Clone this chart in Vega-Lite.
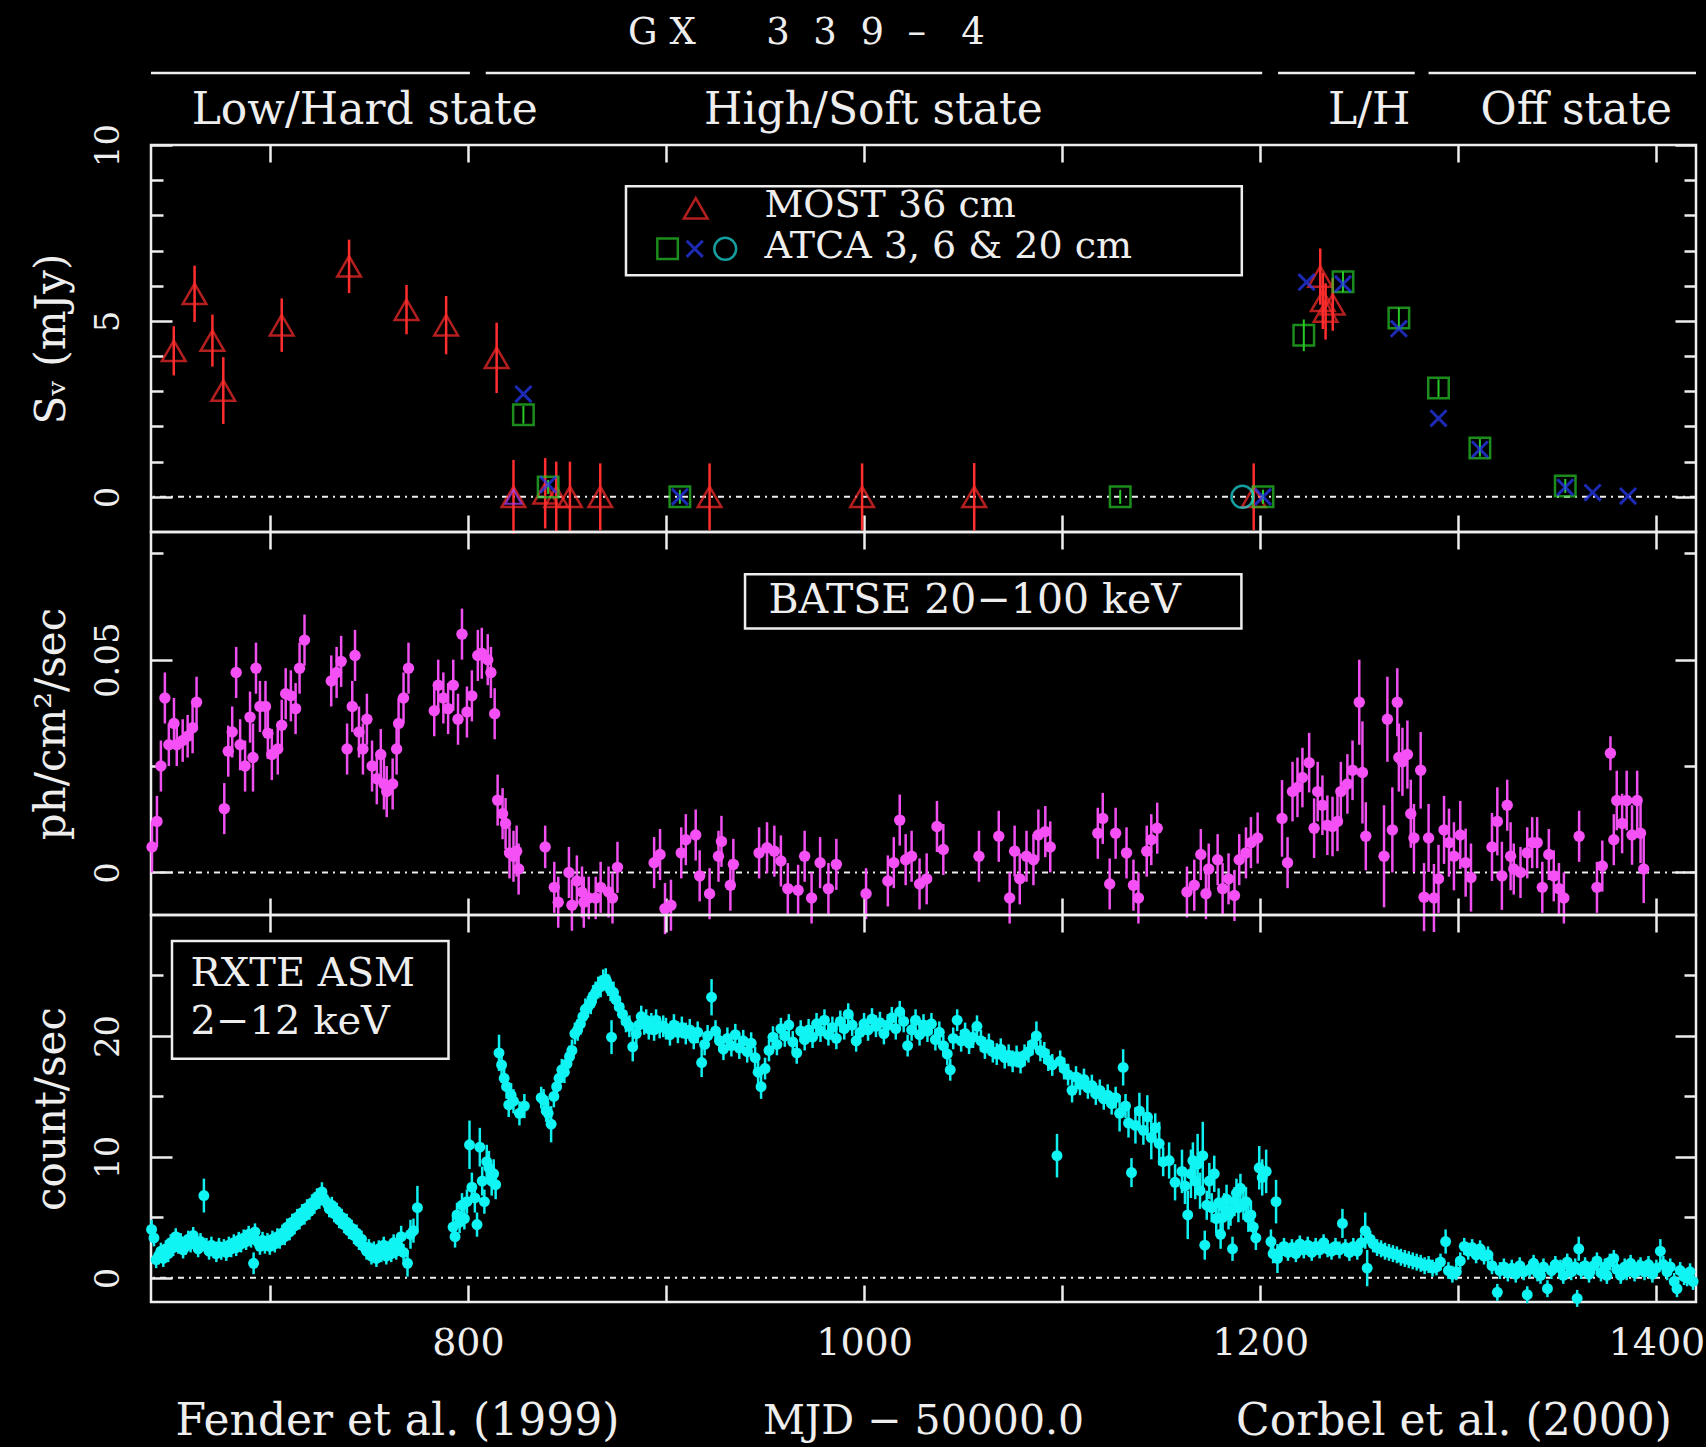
{
"$schema": "https://vega.github.io/schema/vega-lite/v6.json",
"background": "#000000",
"padding": {"left": 28, "top": 0, "right": 0, "bottom": 0},
"spacing": 0,
"bounds": "flush",
"config": {
  "view": {"stroke": "#eeeeee", "strokeWidth": 2.5},
  "axis": {"domain": false, "grid": false, "tickColor": "#eeeeee", "tickWidth": 2.5, "labelColor": "#eeeeee", "labelFont": "DejaVu Serif", "titleColor": "#eeeeee", "titleFont": "DejaVu Serif", "titleFontWeight": "normal", "labelOverlap": false, "labelFlush": false, "labelBound": false},
  "text": {"font": "DejaVu Serif", "color": "#eeeeee"}
},
"datasets": {
  "states": [
    {"state": "Low/Hard", "start": 640, "end": 801},
    {"state": "High/Soft", "start": 809, "end": 1201},
    {"state": "Low/Hard", "start": 1209, "end": 1278},
    {"state": "Off", "start": 1285, "end": 1420}
  ],
  "most": [
    {"mjd": 651.5, "flux": 4.15, "err": 0.7}, {"mjd": 662, "flux": 5.77, "err": 0.8}, {"mjd": 671, "flux": 4.44, "err": 0.74},
    {"mjd": 676.5, "flux": 3.02, "err": 0.95}, {"mjd": 706, "flux": 4.88, "err": 0.76}, {"mjd": 740, "flux": 6.55, "err": 0.76},
    {"mjd": 769, "flux": 5.32, "err": 0.7}, {"mjd": 789, "flux": 4.88, "err": 0.83}, {"mjd": 814.5, "flux": 3.95, "err": 1.0},
    {"mjd": 823, "flux": 0, "err": 1.05}, {"mjd": 839, "flux": 0.1, "err": 1.0}, {"mjd": 844.6, "flux": 0, "err": 1.0},
    {"mjd": 851.5, "flux": 0, "err": 1.0}, {"mjd": 866.8, "flux": 0, "err": 0.95}, {"mjd": 922, "flux": 0, "err": 0.95},
    {"mjd": 999, "flux": 0, "err": 0.95}, {"mjd": 1055.6, "flux": 0, "err": 0.96}, {"mjd": 1196.7, "flux": 0, "err": 0.95},
    {"mjd": 1230.3, "flux": 6.26, "err": 0.8}, {"mjd": 1231.6, "flux": 5.57, "err": 0.8}, {"mjd": 1233, "flux": 5.27, "err": 0.8},
    {"mjd": 1236.6, "flux": 5.47, "err": 0.75}
  ],
  "atcaSquare": [
    {"mjd": 828, "flux": 2.33, "err": 0.25}, {"mjd": 840.5, "flux": 0.28, "err": 0.2}, {"mjd": 907, "flux": 0, "err": 0.2},
    {"mjd": 1129.3, "flux": 0, "err": 0.2}, {"mjd": 1201.4, "flux": 0, "err": 0.2}, {"mjd": 1222, "flux": 4.59, "err": 0.45},
    {"mjd": 1241.8, "flux": 6.11, "err": 0.3}, {"mjd": 1270, "flux": 5.08, "err": 0.3}, {"mjd": 1290, "flux": 3.09, "err": 0.25},
    {"mjd": 1310.9, "flux": 1.39, "err": 0.25}, {"mjd": 1354, "flux": 0.31, "err": 0.2}
  ],
  "atcaCross": [
    {"mjd": 828, "flux": 2.92}, {"mjd": 840.5, "flux": 0.35}, {"mjd": 907, "flux": 0}, {"mjd": 1201.4, "flux": 0},
    {"mjd": 1223.4, "flux": 6.1}, {"mjd": 1241.8, "flux": 6.05}, {"mjd": 1270, "flux": 4.78}, {"mjd": 1290, "flux": 2.23},
    {"mjd": 1310.9, "flux": 1.35}, {"mjd": 1354, "flux": 0.27}, {"mjd": 1367.8, "flux": 0.12}, {"mjd": 1385.7, "flux": 0.02}
  ],
  "atcaCircle": [{"mjd": 1191, "flux": 0}],
  "extra": [{"mjd": 823, "flux": 0}],
  "batse": [
    {"mjd": 640.5, "rate": 0.006, "err": 0.006}, {"mjd": 643, "rate": 0.012, "err": 0.006}, {"mjd": 645, "rate": 0.025, "err": 0.006},
    {"mjd": 647, "rate": 0.041, "err": 0.006}, {"mjd": 649, "rate": 0.03, "err": 0.005}, {"mjd": 651.6, "rate": 0.035, "err": 0.006},
    {"mjd": 653, "rate": 0.03, "err": 0.005}, {"mjd": 656, "rate": 0.031, "err": 0.005}, {"mjd": 658.5, "rate": 0.032, "err": 0.005},
    {"mjd": 661, "rate": 0.034, "err": 0.006}, {"mjd": 663, "rate": 0.04, "err": 0.006}, {"mjd": 677, "rate": 0.015, "err": 0.006},
    {"mjd": 679, "rate": 0.0285, "err": 0.006}, {"mjd": 681, "rate": 0.033, "err": 0.006}, {"mjd": 683, "rate": 0.047, "err": 0.006},
    {"mjd": 685, "rate": 0.03, "err": 0.006}, {"mjd": 687.5, "rate": 0.025, "err": 0.006}, {"mjd": 690, "rate": 0.0365, "err": 0.006},
    {"mjd": 691.5, "rate": 0.027, "err": 0.008}, {"mjd": 693, "rate": 0.048, "err": 0.006}, {"mjd": 695, "rate": 0.039, "err": 0.006},
    {"mjd": 697.8, "rate": 0.039, "err": 0.006}, {"mjd": 699, "rate": 0.0327, "err": 0.006}, {"mjd": 701, "rate": 0.0277, "err": 0.006},
    {"mjd": 704, "rate": 0.029, "err": 0.006}, {"mjd": 706, "rate": 0.0346, "err": 0.006}, {"mjd": 708, "rate": 0.042, "err": 0.006},
    {"mjd": 710.6, "rate": 0.0415, "err": 0.006}, {"mjd": 713, "rate": 0.0385, "err": 0.006}, {"mjd": 715, "rate": 0.048, "err": 0.006},
    {"mjd": 717.5, "rate": 0.0546, "err": 0.006}, {"mjd": 731, "rate": 0.045, "err": 0.006}, {"mjd": 733.7, "rate": 0.047, "err": 0.006},
    {"mjd": 736, "rate": 0.0496, "err": 0.006}, {"mjd": 739, "rate": 0.029, "err": 0.006}, {"mjd": 741.6, "rate": 0.039, "err": 0.006},
    {"mjd": 743, "rate": 0.051, "err": 0.006}, {"mjd": 745, "rate": 0.033, "err": 0.006}, {"mjd": 747, "rate": 0.029, "err": 0.006},
    {"mjd": 749, "rate": 0.036, "err": 0.006}, {"mjd": 751.6, "rate": 0.025, "err": 0.006}, {"mjd": 754, "rate": 0.022, "err": 0.006},
    {"mjd": 756, "rate": 0.0277, "err": 0.006}, {"mjd": 757.6, "rate": 0.0208, "err": 0.006}, {"mjd": 759, "rate": 0.019, "err": 0.006},
    {"mjd": 762, "rate": 0.0208, "err": 0.006}, {"mjd": 764, "rate": 0.029, "err": 0.006}, {"mjd": 765, "rate": 0.035, "err": 0.006},
    {"mjd": 767.5, "rate": 0.041, "err": 0.006}, {"mjd": 770, "rate": 0.048, "err": 0.006}, {"mjd": 783, "rate": 0.038, "err": 0.006},
    {"mjd": 785, "rate": 0.044, "err": 0.006}, {"mjd": 787.6, "rate": 0.041, "err": 0.006}, {"mjd": 790, "rate": 0.0385, "err": 0.006},
    {"mjd": 792.6, "rate": 0.044, "err": 0.006}, {"mjd": 795, "rate": 0.036, "err": 0.006}, {"mjd": 797, "rate": 0.056, "err": 0.006},
    {"mjd": 799.5, "rate": 0.0377, "err": 0.006}, {"mjd": 802, "rate": 0.0415, "err": 0.006}, {"mjd": 805, "rate": 0.051, "err": 0.006},
    {"mjd": 807, "rate": 0.0515, "err": 0.006}, {"mjd": 810, "rate": 0.05, "err": 0.006}, {"mjd": 811.6, "rate": 0.047, "err": 0.006},
    {"mjd": 813.5, "rate": 0.0373, "err": 0.006}, {"mjd": 815, "rate": 0.017, "err": 0.006}, {"mjd": 817.5, "rate": 0.0138, "err": 0.006},
    {"mjd": 819, "rate": 0.0115, "err": 0.006}, {"mjd": 821, "rate": 0.0046, "err": 0.006}, {"mjd": 823, "rate": 0.0038, "err": 0.006},
    {"mjd": 824.6, "rate": 0.005, "err": 0.006}, {"mjd": 825.6, "rate": 0.0008, "err": 0.006}, {"mjd": 839, "rate": 0.006, "err": 0.005},
    {"mjd": 843.6, "rate": -0.0035, "err": 0.006}, {"mjd": 845.6, "rate": -0.007, "err": 0.006}, {"mjd": 851, "rate": 0.0, "err": 0.006},
    {"mjd": 852.5, "rate": -0.0077, "err": 0.006}, {"mjd": 855, "rate": -0.002, "err": 0.006}, {"mjd": 857.6, "rate": -0.0046, "err": 0.006},
    {"mjd": 858.5, "rate": -0.007, "err": 0.006}, {"mjd": 861, "rate": -0.006, "err": 0.005}, {"mjd": 864.5, "rate": -0.006, "err": 0.005},
    {"mjd": 867, "rate": -0.0035, "err": 0.006}, {"mjd": 871, "rate": -0.0046, "err": 0.006}, {"mjd": 873, "rate": -0.006, "err": 0.006},
    {"mjd": 875.5, "rate": 0.0012, "err": 0.006}, {"mjd": 894, "rate": 0.0023, "err": 0.006}, {"mjd": 897, "rate": 0.0042, "err": 0.006},
    {"mjd": 899.5, "rate": -0.0085, "err": 0.006}, {"mjd": 902.5, "rate": -0.0077, "err": 0.006}, {"mjd": 907.7, "rate": 0.0046, "err": 0.006},
    {"mjd": 910, "rate": 0.0077, "err": 0.006}, {"mjd": 915, "rate": 0.0088, "err": 0.006}, {"mjd": 917, "rate": -0.0008, "err": 0.006},
    {"mjd": 922, "rate": -0.005, "err": 0.006}, {"mjd": 926.5, "rate": 0.0038, "err": 0.006}, {"mjd": 928, "rate": 0.0073, "err": 0.006},
    {"mjd": 932.5, "rate": -0.003, "err": 0.006}, {"mjd": 934, "rate": 0.0019, "err": 0.006}, {"mjd": 947, "rate": 0.0046, "err": 0.006},
    {"mjd": 951, "rate": 0.0058, "err": 0.006}, {"mjd": 954.7, "rate": 0.005, "err": 0.006}, {"mjd": 958, "rate": 0.0027, "err": 0.006},
    {"mjd": 961.5, "rate": -0.0038, "err": 0.006}, {"mjd": 966.7, "rate": -0.0042, "err": 0.006}, {"mjd": 970, "rate": 0.0038, "err": 0.006},
    {"mjd": 973.5, "rate": -0.006, "err": 0.006}, {"mjd": 977.8, "rate": 0.0023, "err": 0.006}, {"mjd": 982, "rate": -0.0038, "err": 0.006},
    {"mjd": 986, "rate": 0.0019, "err": 0.006}, {"mjd": 1001, "rate": -0.005, "err": 0.006}, {"mjd": 1012, "rate": -0.002, "err": 0.006},
    {"mjd": 1015, "rate": 0.0023, "err": 0.006}, {"mjd": 1018, "rate": 0.0123, "err": 0.006}, {"mjd": 1021, "rate": 0.003, "err": 0.006},
    {"mjd": 1024, "rate": 0.0038, "err": 0.006}, {"mjd": 1028, "rate": -0.0027, "err": 0.006}, {"mjd": 1031.6, "rate": -0.0015, "err": 0.006},
    {"mjd": 1036.8, "rate": 0.0108, "err": 0.006}, {"mjd": 1040, "rate": 0.0054, "err": 0.006}, {"mjd": 1058, "rate": 0.0038, "err": 0.006},
    {"mjd": 1068, "rate": 0.0085, "err": 0.006}, {"mjd": 1073.5, "rate": -0.006, "err": 0.006}, {"mjd": 1076, "rate": 0.005, "err": 0.006},
    {"mjd": 1078.6, "rate": -0.0015, "err": 0.006}, {"mjd": 1082, "rate": 0.0038, "err": 0.006}, {"mjd": 1085.5, "rate": 0.003, "err": 0.006},
    {"mjd": 1088, "rate": 0.0088, "err": 0.006}, {"mjd": 1091.5, "rate": 0.0096, "err": 0.006}, {"mjd": 1094, "rate": 0.006, "err": 0.006},
    {"mjd": 1118, "rate": 0.0092, "err": 0.006}, {"mjd": 1120.5, "rate": 0.0127, "err": 0.006}, {"mjd": 1124, "rate": -0.0027, "err": 0.006},
    {"mjd": 1127, "rate": 0.0092, "err": 0.006}, {"mjd": 1132.5, "rate": 0.0046, "err": 0.006}, {"mjd": 1136, "rate": -0.003, "err": 0.006},
    {"mjd": 1138.5, "rate": -0.006, "err": 0.006}, {"mjd": 1142.7, "rate": 0.005, "err": 0.006}, {"mjd": 1145, "rate": 0.0077, "err": 0.006},
    {"mjd": 1148, "rate": 0.0104, "err": 0.006}, {"mjd": 1163, "rate": -0.0046, "err": 0.006}, {"mjd": 1166.7, "rate": -0.003, "err": 0.006},
    {"mjd": 1170, "rate": 0.0042, "err": 0.006}, {"mjd": 1172.6, "rate": -0.005, "err": 0.006}, {"mjd": 1174, "rate": 0.0008, "err": 0.006},
    {"mjd": 1178.5, "rate": 0.003, "err": 0.006}, {"mjd": 1181, "rate": -0.0038, "err": 0.006}, {"mjd": 1184, "rate": -0.0015, "err": 0.006},
    {"mjd": 1187, "rate": -0.0054, "err": 0.006}, {"mjd": 1189.4, "rate": 0.003, "err": 0.006}, {"mjd": 1192.8, "rate": 0.0046, "err": 0.006},
    {"mjd": 1195.3, "rate": 0.007, "err": 0.006}, {"mjd": 1198.7, "rate": 0.0081, "err": 0.006}, {"mjd": 1211, "rate": 0.0127, "err": 0.009},
    {"mjd": 1213.8, "rate": 0.0023, "err": 0.006}, {"mjd": 1216.3, "rate": 0.019, "err": 0.007}, {"mjd": 1218.8, "rate": 0.02, "err": 0.007},
    {"mjd": 1221.3, "rate": 0.0223, "err": 0.007}, {"mjd": 1224.7, "rate": 0.0258, "err": 0.007}, {"mjd": 1227.2, "rate": 0.0104, "err": 0.007},
    {"mjd": 1229, "rate": 0.019, "err": 0.007}, {"mjd": 1231.4, "rate": 0.0158, "err": 0.007}, {"mjd": 1233.9, "rate": 0.0111, "err": 0.007},
    {"mjd": 1236.5, "rate": 0.0108, "err": 0.007}, {"mjd": 1239, "rate": 0.012, "err": 0.007}, {"mjd": 1240.7, "rate": 0.019, "err": 0.007},
    {"mjd": 1244, "rate": 0.0208, "err": 0.007}, {"mjd": 1246.6, "rate": 0.024, "err": 0.007}, {"mjd": 1250, "rate": 0.04, "err": 0.01},
    {"mjd": 1251.6, "rate": 0.0235, "err": 0.012}, {"mjd": 1253.3, "rate": 0.0085, "err": 0.008}, {"mjd": 1262.5, "rate": 0.0038, "err": 0.012},
    {"mjd": 1264.2, "rate": 0.036, "err": 0.01}, {"mjd": 1266.7, "rate": 0.01, "err": 0.01}, {"mjd": 1269.2, "rate": 0.04, "err": 0.008},
    {"mjd": 1270, "rate": 0.027, "err": 0.008}, {"mjd": 1271.8, "rate": 0.026, "err": 0.008}, {"mjd": 1274.3, "rate": 0.0277, "err": 0.008},
    {"mjd": 1276, "rate": 0.0138, "err": 0.008}, {"mjd": 1277.6, "rate": 0.0081, "err": 0.008}, {"mjd": 1281, "rate": 0.024, "err": 0.009},
    {"mjd": 1282.7, "rate": -0.0058, "err": 0.008}, {"mjd": 1285, "rate": 0.0081, "err": 0.008}, {"mjd": 1287.7, "rate": -0.006, "err": 0.008},
    {"mjd": 1290, "rate": -0.0015, "err": 0.008}, {"mjd": 1292.8, "rate": 0.01, "err": 0.008}, {"mjd": 1295.3, "rate": 0.007, "err": 0.008},
    {"mjd": 1297.8, "rate": 0.0038, "err": 0.008}, {"mjd": 1301, "rate": 0.0088, "err": 0.008}, {"mjd": 1303.7, "rate": 0.0023, "err": 0.008},
    {"mjd": 1306.4, "rate": -0.0012, "err": 0.008}, {"mjd": 1317, "rate": 0.006, "err": 0.008}, {"mjd": 1319.7, "rate": 0.012, "err": 0.008},
    {"mjd": 1322, "rate": -0.0008, "err": 0.008}, {"mjd": 1324.7, "rate": 0.0158, "err": 0.006}, {"mjd": 1326.4, "rate": 0.0038, "err": 0.008},
    {"mjd": 1328, "rate": 0.0008, "err": 0.006}, {"mjd": 1331.4, "rate": 0.0, "err": 0.006}, {"mjd": 1334.8, "rate": 0.0046, "err": 0.006},
    {"mjd": 1337.3, "rate": 0.007, "err": 0.006}, {"mjd": 1339.8, "rate": 0.007, "err": 0.006}, {"mjd": 1342.4, "rate": -0.0035, "err": 0.006},
    {"mjd": 1345.7, "rate": 0.0042, "err": 0.006}, {"mjd": 1348.2, "rate": -0.0008, "err": 0.006}, {"mjd": 1350.8, "rate": -0.0038, "err": 0.006},
    {"mjd": 1353.3, "rate": -0.006, "err": 0.006}, {"mjd": 1361, "rate": 0.0085, "err": 0.006}, {"mjd": 1370, "rate": -0.0035, "err": 0.006},
    {"mjd": 1372.7, "rate": 0.0015, "err": 0.006}, {"mjd": 1376.8, "rate": 0.028, "err": 0.004}, {"mjd": 1378.5, "rate": 0.0077, "err": 0.006},
    {"mjd": 1380, "rate": 0.0169, "err": 0.007}, {"mjd": 1382.7, "rate": 0.0115, "err": 0.007}, {"mjd": 1385, "rate": 0.0169, "err": 0.007},
    {"mjd": 1387.7, "rate": 0.0088, "err": 0.007}, {"mjd": 1390.3, "rate": 0.0169, "err": 0.007}, {"mjd": 1392, "rate": 0.0092, "err": 0.007},
    {"mjd": 1393.6, "rate": 0.0008, "err": 0.008}
  ],
  "asm": [
    {"mjd": 640.3, "rate": 4.0, "err": 0.8}, {"mjd": 641.5, "rate": 3.3, "err": 0.7}, {"mjd": 642.6, "rate": 1.5, "err": 0.7}, {"mjd": 643.8, "rate": 1.8, "err": 0.7},
    {"mjd": 645, "rate": 2.2, "err": 0.7}, {"mjd": 646.2, "rate": 1.6, "err": 0.7}, {"mjd": 647.5, "rate": 2.4, "err": 0.7}, {"mjd": 648.7, "rate": 2.0, "err": 0.7},
    {"mjd": 650, "rate": 2.9, "err": 0.7}, {"mjd": 651.2, "rate": 2.5, "err": 0.7}, {"mjd": 652.5, "rate": 3.4, "err": 0.7}, {"mjd": 653.7, "rate": 2.7, "err": 0.7},
    {"mjd": 655, "rate": 3.0, "err": 0.7}, {"mjd": 656.2, "rate": 2.3, "err": 0.7}, {"mjd": 657.5, "rate": 2.6, "err": 0.7}, {"mjd": 658.8, "rate": 3.2, "err": 0.7},
    {"mjd": 660, "rate": 2.8, "err": 0.7}, {"mjd": 661.3, "rate": 3.5, "err": 0.7}, {"mjd": 662.5, "rate": 2.9, "err": 0.7}, {"mjd": 663.8, "rate": 2.4, "err": 0.7},
    {"mjd": 665, "rate": 3.0, "err": 0.7}, {"mjd": 666.7, "rate": 6.8, "err": 1.4}, {"mjd": 668, "rate": 2.6, "err": 0.7}, {"mjd": 669.3, "rate": 2.2, "err": 0.7},
    {"mjd": 670.5, "rate": 2.7, "err": 0.7}, {"mjd": 671.8, "rate": 2.3, "err": 0.7}, {"mjd": 673, "rate": 2.0, "err": 0.7}, {"mjd": 674.3, "rate": 2.6, "err": 0.7},
    {"mjd": 675.5, "rate": 2.2, "err": 0.7}, {"mjd": 676.8, "rate": 2.5, "err": 0.7}, {"mjd": 678, "rate": 2.1, "err": 0.7}, {"mjd": 679.3, "rate": 2.7, "err": 0.7},
    {"mjd": 680.5, "rate": 2.4, "err": 0.7}, {"mjd": 681.8, "rate": 2.9, "err": 0.7}, {"mjd": 683, "rate": 2.5, "err": 0.7}, {"mjd": 684.3, "rate": 3.1, "err": 0.7},
    {"mjd": 685.5, "rate": 2.8, "err": 0.7}, {"mjd": 686.8, "rate": 3.3, "err": 0.7}, {"mjd": 688, "rate": 3.0, "err": 0.7}, {"mjd": 689.3, "rate": 3.6, "err": 0.7},
    {"mjd": 690.5, "rate": 3.2, "err": 0.7}, {"mjd": 691.8, "rate": 1.2, "err": 0.9}, {"mjd": 692.5, "rate": 3.8, "err": 0.7}, {"mjd": 693.8, "rate": 3.0, "err": 0.7},
    {"mjd": 695, "rate": 2.6, "err": 0.7}, {"mjd": 696.3, "rate": 3.1, "err": 0.7}, {"mjd": 697.5, "rate": 2.7, "err": 0.7}, {"mjd": 698.8, "rate": 3.0, "err": 0.7},
    {"mjd": 700, "rate": 2.6, "err": 0.7}, {"mjd": 701.3, "rate": 3.2, "err": 0.7}, {"mjd": 702.5, "rate": 2.8, "err": 0.7}, {"mjd": 703.8, "rate": 3.4, "err": 0.7},
    {"mjd": 705, "rate": 3.1, "err": 0.7}, {"mjd": 706.3, "rate": 3.7, "err": 0.7}, {"mjd": 707.5, "rate": 3.4, "err": 0.7}, {"mjd": 708.8, "rate": 4.2, "err": 0.7},
    {"mjd": 710, "rate": 3.8, "err": 0.7}, {"mjd": 711.3, "rate": 4.6, "err": 0.7}, {"mjd": 712.5, "rate": 4.3, "err": 0.7}, {"mjd": 713.8, "rate": 5.0, "err": 0.7},
    {"mjd": 715, "rate": 4.7, "err": 0.7}, {"mjd": 716.3, "rate": 5.4, "err": 0.7}, {"mjd": 717.5, "rate": 5.1, "err": 0.7}, {"mjd": 718.8, "rate": 5.8, "err": 0.7},
    {"mjd": 720, "rate": 5.5, "err": 0.7}, {"mjd": 721.3, "rate": 6.2, "err": 0.7}, {"mjd": 722.5, "rate": 6.0, "err": 0.7}, {"mjd": 723.8, "rate": 6.7, "err": 0.7},
    {"mjd": 725, "rate": 6.4, "err": 0.7}, {"mjd": 726.3, "rate": 7.1, "err": 0.8}, {"mjd": 727.5, "rate": 6.5, "err": 0.7}, {"mjd": 728.8, "rate": 6.2, "err": 0.7},
    {"mjd": 730, "rate": 5.7, "err": 0.7}, {"mjd": 731.3, "rate": 6.0, "err": 0.7}, {"mjd": 732.5, "rate": 5.3, "err": 0.7}, {"mjd": 733.8, "rate": 5.5, "err": 0.7},
    {"mjd": 735, "rate": 4.8, "err": 0.7}, {"mjd": 736.3, "rate": 5.0, "err": 0.7}, {"mjd": 737.5, "rate": 4.4, "err": 0.7}, {"mjd": 738.8, "rate": 4.6, "err": 0.7},
    {"mjd": 740, "rate": 3.9, "err": 0.7}, {"mjd": 741.3, "rate": 4.1, "err": 0.7}, {"mjd": 742.5, "rate": 3.5, "err": 0.7}, {"mjd": 743.8, "rate": 3.7, "err": 0.7},
    {"mjd": 745, "rate": 3.0, "err": 0.7}, {"mjd": 746.3, "rate": 3.2, "err": 0.7}, {"mjd": 747.5, "rate": 2.6, "err": 0.7}, {"mjd": 748.8, "rate": 2.2, "err": 0.7},
    {"mjd": 750, "rate": 2.5, "err": 0.7}, {"mjd": 751.3, "rate": 1.8, "err": 0.7}, {"mjd": 752.5, "rate": 2.3, "err": 0.7}, {"mjd": 753.8, "rate": 1.6, "err": 0.7},
    {"mjd": 755, "rate": 2.4, "err": 0.7}, {"mjd": 756.3, "rate": 2.0, "err": 0.7}, {"mjd": 757.5, "rate": 2.7, "err": 0.7}, {"mjd": 758.8, "rate": 1.8, "err": 0.7},
    {"mjd": 760, "rate": 2.3, "err": 0.7}, {"mjd": 761.3, "rate": 2.0, "err": 0.7}, {"mjd": 762.5, "rate": 2.9, "err": 0.7}, {"mjd": 763.8, "rate": 2.2, "err": 0.7},
    {"mjd": 765, "rate": 2.6, "err": 0.7}, {"mjd": 766.3, "rate": 3.4, "err": 0.9}, {"mjd": 767.5, "rate": 2.1, "err": 0.7}, {"mjd": 769.5, "rate": 1.2, "err": 1.1},
    {"mjd": 771, "rate": 3.6, "err": 1.2}, {"mjd": 772.5, "rate": 3.9, "err": 1.0}, {"mjd": 774.5, "rate": 5.8, "err": 1.8},
    {"mjd": 792.5, "rate": 4.2, "err": 1.0}, {"mjd": 793.5, "rate": 3.4, "err": 0.9}, {"mjd": 794.5, "rate": 5.2, "err": 1.0}, {"mjd": 795.8, "rate": 4.6, "err": 0.9},
    {"mjd": 797, "rate": 6.0, "err": 1.0}, {"mjd": 798.2, "rate": 4.9, "err": 0.9}, {"mjd": 799.5, "rate": 6.3, "err": 1.0}, {"mjd": 800.8, "rate": 11.0, "err": 2.0},
    {"mjd": 802, "rate": 7.5, "err": 1.2}, {"mjd": 803.5, "rate": 6.6, "err": 1.2}, {"mjd": 804.6, "rate": 4.4, "err": 1.0}, {"mjd": 806, "rate": 10.8, "err": 1.6},
    {"mjd": 807.2, "rate": 8.0, "err": 1.2}, {"mjd": 808.3, "rate": 6.3, "err": 1.0}, {"mjd": 809.5, "rate": 9.6, "err": 1.4}, {"mjd": 810.6, "rate": 9.1, "err": 1.4},
    {"mjd": 812, "rate": 8.0, "err": 1.2}, {"mjd": 813, "rate": 8.6, "err": 1.2}, {"mjd": 814, "rate": 7.7, "err": 1.2},
    {"mjd": 815.7, "rate": 18.6, "err": 1.5}, {"mjd": 817, "rate": 17.6, "err": 1.0}, {"mjd": 818.3, "rate": 16.5, "err": 1.0}, {"mjd": 819.5, "rate": 15.8, "err": 1.0},
    {"mjd": 820.6, "rate": 14.3, "err": 1.0}, {"mjd": 821.8, "rate": 15.1, "err": 1.0}, {"mjd": 823, "rate": 14.6, "err": 1.0}, {"mjd": 826, "rate": 13.6, "err": 1.0},
    {"mjd": 828.5, "rate": 14.2, "err": 1.0}, {"mjd": 837, "rate": 14.9, "err": 0.9}, {"mjd": 838.2, "rate": 14.7, "err": 0.9}, {"mjd": 839.5, "rate": 13.8, "err": 0.9},
    {"mjd": 840.5, "rate": 13.6, "err": 1.0}, {"mjd": 842, "rate": 12.7, "err": 1.5}, {"mjd": 843.4, "rate": 15.0, "err": 0.9}, {"mjd": 844.8, "rate": 15.8, "err": 0.9},
    {"mjd": 846, "rate": 16.5, "err": 0.9}, {"mjd": 847.4, "rate": 17.2, "err": 0.9}, {"mjd": 848.7, "rate": 17.0, "err": 0.9}, {"mjd": 850, "rate": 17.7, "err": 0.9},
    {"mjd": 851.3, "rate": 18.3, "err": 0.9}, {"mjd": 852.5, "rate": 18.8, "err": 0.9}, {"mjd": 854, "rate": 20.2, "err": 0.9}, {"mjd": 855.4, "rate": 20.5, "err": 0.9},
    {"mjd": 856.8, "rate": 21.0, "err": 0.9}, {"mjd": 858, "rate": 21.6, "err": 0.9}, {"mjd": 859.3, "rate": 22.2, "err": 0.9}, {"mjd": 860.6, "rate": 22.4, "err": 0.9},
    {"mjd": 862, "rate": 22.7, "err": 0.9}, {"mjd": 863.2, "rate": 23.3, "err": 0.9}, {"mjd": 864.5, "rate": 23.6, "err": 0.9}, {"mjd": 865.8, "rate": 24.0, "err": 0.9},
    {"mjd": 867, "rate": 24.1, "err": 0.9}, {"mjd": 868.3, "rate": 24.6, "err": 0.9}, {"mjd": 869.6, "rate": 24.7, "err": 0.9}, {"mjd": 870.8, "rate": 24.2, "err": 0.9},
    {"mjd": 872, "rate": 23.8, "err": 0.9}, {"mjd": 872.5, "rate": 19.9, "err": 1.4}, {"mjd": 873.5, "rate": 23.6, "err": 0.9}, {"mjd": 874.7, "rate": 23.0, "err": 0.9},
    {"mjd": 876.4, "rate": 22.4, "err": 0.9}, {"mjd": 878, "rate": 21.8, "err": 0.9}, {"mjd": 879.8, "rate": 21.2, "err": 0.9}, {"mjd": 881.5, "rate": 20.8, "err": 0.9},
    {"mjd": 883.2, "rate": 19.1, "err": 1.2}, {"mjd": 885, "rate": 20.2, "err": 0.9}, {"mjd": 886.3, "rate": 20.9, "err": 0.9}, {"mjd": 887.5, "rate": 21.6, "err": 0.9},
    {"mjd": 889, "rate": 21.0, "err": 0.9}, {"mjd": 890, "rate": 21.3, "err": 0.9}, {"mjd": 891.3, "rate": 20.6, "err": 0.9}, {"mjd": 892.6, "rate": 21.0, "err": 0.9},
    {"mjd": 894, "rate": 20.5, "err": 0.9}, {"mjd": 895, "rate": 21.3, "err": 0.9}, {"mjd": 896.8, "rate": 20.7, "err": 0.9}, {"mjd": 898.6, "rate": 20.8, "err": 0.9},
    {"mjd": 900, "rate": 20.6, "err": 0.9}, {"mjd": 902, "rate": 20.1, "err": 0.9}, {"mjd": 904, "rate": 20.9, "err": 0.9}, {"mjd": 906, "rate": 20.3, "err": 0.9},
    {"mjd": 908, "rate": 20.7, "err": 0.9}, {"mjd": 910, "rate": 20.2, "err": 0.9}, {"mjd": 912, "rate": 20.5, "err": 0.9}, {"mjd": 914, "rate": 19.8, "err": 0.9},
    {"mjd": 916, "rate": 20.3, "err": 0.9}, {"mjd": 918, "rate": 17.8, "err": 1.2}, {"mjd": 919.5, "rate": 19.3, "err": 0.9}, {"mjd": 921, "rate": 20.0, "err": 0.9},
    {"mjd": 923, "rate": 23.2, "err": 1.5}, {"mjd": 925, "rate": 20.4, "err": 0.9}, {"mjd": 927, "rate": 19.6, "err": 0.9}, {"mjd": 929, "rate": 18.9, "err": 0.9},
    {"mjd": 931, "rate": 19.8, "err": 0.9}, {"mjd": 933, "rate": 19.2, "err": 0.9}, {"mjd": 935, "rate": 20.1, "err": 0.9}, {"mjd": 937, "rate": 19.0, "err": 0.9},
    {"mjd": 939, "rate": 19.6, "err": 0.9}, {"mjd": 941, "rate": 18.7, "err": 0.9}, {"mjd": 943, "rate": 19.4, "err": 0.9}, {"mjd": 945, "rate": 18.2, "err": 0.9},
    {"mjd": 946.5, "rate": 17.0, "err": 0.9}, {"mjd": 948, "rate": 15.8, "err": 1.0}, {"mjd": 950, "rate": 17.3, "err": 0.9}, {"mjd": 952, "rate": 18.8, "err": 0.9},
    {"mjd": 954, "rate": 19.9, "err": 0.9}, {"mjd": 956, "rate": 19.3, "err": 0.9}, {"mjd": 958, "rate": 20.6, "err": 0.9}, {"mjd": 960, "rate": 20.0, "err": 0.9},
    {"mjd": 962, "rate": 20.9, "err": 0.9}, {"mjd": 964, "rate": 19.5, "err": 0.9}, {"mjd": 966, "rate": 18.6, "err": 0.9}, {"mjd": 968, "rate": 20.4, "err": 0.9},
    {"mjd": 970, "rate": 19.7, "err": 0.9}, {"mjd": 972, "rate": 20.5, "err": 0.9}, {"mjd": 974, "rate": 19.9, "err": 0.9}, {"mjd": 976, "rate": 21.0, "err": 0.9},
    {"mjd": 978, "rate": 20.4, "err": 0.9}, {"mjd": 980, "rate": 21.3, "err": 0.9}, {"mjd": 982, "rate": 20.1, "err": 0.9}, {"mjd": 984, "rate": 20.7, "err": 0.9},
    {"mjd": 986, "rate": 19.8, "err": 0.9}, {"mjd": 988, "rate": 21.2, "err": 0.9}, {"mjd": 990, "rate": 20.6, "err": 0.9}, {"mjd": 992, "rate": 21.8, "err": 0.9},
    {"mjd": 994, "rate": 20.9, "err": 0.9}, {"mjd": 996, "rate": 19.6, "err": 0.9}, {"mjd": 998, "rate": 20.3, "err": 0.9}, {"mjd": 1000, "rate": 21.0, "err": 0.9},
    {"mjd": 1002, "rate": 20.5, "err": 0.9}, {"mjd": 1004, "rate": 21.4, "err": 0.9}, {"mjd": 1006, "rate": 20.8, "err": 0.9}, {"mjd": 1008, "rate": 21.1, "err": 0.9},
    {"mjd": 1010, "rate": 20.2, "err": 0.9}, {"mjd": 1012, "rate": 20.9, "err": 0.9}, {"mjd": 1014, "rate": 21.5, "err": 0.9}, {"mjd": 1016, "rate": 20.6, "err": 0.9},
    {"mjd": 1018, "rate": 22.0, "err": 0.9}, {"mjd": 1020, "rate": 21.2, "err": 0.9}, {"mjd": 1022, "rate": 19.2, "err": 0.9}, {"mjd": 1024, "rate": 20.5, "err": 0.9},
    {"mjd": 1026, "rate": 21.3, "err": 0.9}, {"mjd": 1028, "rate": 20.1, "err": 0.9}, {"mjd": 1030, "rate": 20.9, "err": 0.9}, {"mjd": 1032, "rate": 20.4, "err": 0.9},
    {"mjd": 1034, "rate": 21.0, "err": 0.9}, {"mjd": 1036, "rate": 19.7, "err": 0.9}, {"mjd": 1038, "rate": 20.3, "err": 0.9}, {"mjd": 1040, "rate": 19.2, "err": 0.9},
    {"mjd": 1042, "rate": 18.5, "err": 0.9}, {"mjd": 1043.5, "rate": 17.2, "err": 0.9}, {"mjd": 1045, "rate": 19.8, "err": 0.9}, {"mjd": 1047, "rate": 21.3, "err": 0.9},
    {"mjd": 1049, "rate": 19.6, "err": 0.9}, {"mjd": 1051, "rate": 20.2, "err": 0.9}, {"mjd": 1053, "rate": 19.4, "err": 0.9}, {"mjd": 1055, "rate": 19.9, "err": 0.9},
    {"mjd": 1057, "rate": 20.8, "err": 0.9}, {"mjd": 1059, "rate": 19.6, "err": 0.9}, {"mjd": 1061, "rate": 19.0, "err": 0.9}, {"mjd": 1063, "rate": 19.3, "err": 0.9},
    {"mjd": 1065, "rate": 18.7, "err": 0.9}, {"mjd": 1067, "rate": 18.5, "err": 0.9}, {"mjd": 1069, "rate": 18.9, "err": 0.9}, {"mjd": 1071, "rate": 18.2, "err": 0.9},
    {"mjd": 1073, "rate": 18.4, "err": 0.9}, {"mjd": 1075, "rate": 17.9, "err": 0.9}, {"mjd": 1077, "rate": 18.3, "err": 0.9}, {"mjd": 1079, "rate": 17.8, "err": 0.9},
    {"mjd": 1081, "rate": 18.4, "err": 0.9}, {"mjd": 1083, "rate": 18.7, "err": 0.9}, {"mjd": 1085, "rate": 19.3, "err": 0.9}, {"mjd": 1087, "rate": 20.0, "err": 1.2},
    {"mjd": 1089, "rate": 18.8, "err": 0.9}, {"mjd": 1091, "rate": 18.6, "err": 0.9}, {"mjd": 1093, "rate": 18.0, "err": 0.9}, {"mjd": 1095, "rate": 17.6, "err": 0.9},
    {"mjd": 1097.4, "rate": 10.1, "err": 1.8}, {"mjd": 1099, "rate": 17.9, "err": 0.9}, {"mjd": 1101, "rate": 17.3, "err": 0.9}, {"mjd": 1103, "rate": 16.8, "err": 0.9},
    {"mjd": 1105, "rate": 15.5, "err": 1.0}, {"mjd": 1107, "rate": 16.6, "err": 0.9}, {"mjd": 1109, "rate": 16.0, "err": 0.9}, {"mjd": 1111, "rate": 16.4, "err": 0.9},
    {"mjd": 1113, "rate": 15.7, "err": 0.9}, {"mjd": 1115, "rate": 15.9, "err": 0.9}, {"mjd": 1117, "rate": 15.2, "err": 0.9}, {"mjd": 1119, "rate": 15.5, "err": 0.9},
    {"mjd": 1121, "rate": 14.8, "err": 0.9}, {"mjd": 1123, "rate": 15.1, "err": 0.9}, {"mjd": 1125, "rate": 14.4, "err": 0.9}, {"mjd": 1127, "rate": 14.9, "err": 0.9},
    {"mjd": 1129, "rate": 13.6, "err": 1.5}, {"mjd": 1130.8, "rate": 17.4, "err": 1.5}, {"mjd": 1132, "rate": 14.2, "err": 1.0}, {"mjd": 1133.5, "rate": 12.8, "err": 1.2},
    {"mjd": 1135, "rate": 8.7, "err": 1.2}, {"mjd": 1137, "rate": 12.6, "err": 1.5}, {"mjd": 1139, "rate": 13.8, "err": 1.5}, {"mjd": 1141, "rate": 12.2, "err": 1.2},
    {"mjd": 1143, "rate": 13.3, "err": 1.8}, {"mjd": 1145, "rate": 11.6, "err": 1.8}, {"mjd": 1147, "rate": 12.4, "err": 1.2}, {"mjd": 1149, "rate": 11.1, "err": 1.8},
    {"mjd": 1151, "rate": 9.6, "err": 1.2}, {"mjd": 1154, "rate": 9.7, "err": 1.5}, {"mjd": 1157, "rate": 7.9, "err": 1.5},
    {"mjd": 1160.5, "rate": 8.8, "err": 1.8}, {"mjd": 1162, "rate": 7.6, "err": 1.5}, {"mjd": 1163.4, "rate": 5.2, "err": 2.0}, {"mjd": 1165, "rate": 8.6, "err": 2.0},
    {"mjd": 1166, "rate": 9.7, "err": 1.5}, {"mjd": 1167.2, "rate": 8.0, "err": 1.5}, {"mjd": 1168.4, "rate": 9.4, "err": 2.5}, {"mjd": 1169.6, "rate": 7.2, "err": 1.5},
    {"mjd": 1171, "rate": 10.1, "err": 2.8}, {"mjd": 1172, "rate": 2.7, "err": 1.2}, {"mjd": 1173, "rate": 6.0, "err": 1.2}, {"mjd": 1174.3, "rate": 8.0, "err": 1.5},
    {"mjd": 1175.5, "rate": 5.8, "err": 1.2}, {"mjd": 1176.8, "rate": 8.6, "err": 1.5}, {"mjd": 1177.8, "rate": 4.9, "err": 1.2}, {"mjd": 1179, "rate": 6.2, "err": 1.2},
    {"mjd": 1180, "rate": 3.6, "err": 1.2}, {"mjd": 1181, "rate": 5.0, "err": 1.2}, {"mjd": 1181.8, "rate": 5.8, "err": 1.2}, {"mjd": 1183, "rate": 6.5, "err": 1.2},
    {"mjd": 1184, "rate": 5.2, "err": 1.2}, {"mjd": 1185, "rate": 5.5, "err": 1.2}, {"mjd": 1186, "rate": 2.4, "err": 1.0}, {"mjd": 1187, "rate": 6.3, "err": 1.2},
    {"mjd": 1188, "rate": 7.0, "err": 1.2}, {"mjd": 1189, "rate": 5.8, "err": 1.2}, {"mjd": 1190, "rate": 7.4, "err": 1.2}, {"mjd": 1191.5, "rate": 6.0, "err": 1.2},
    {"mjd": 1192.8, "rate": 6.3, "err": 1.2}, {"mjd": 1194, "rate": 5.0, "err": 1.2}, {"mjd": 1195.3, "rate": 5.2, "err": 1.2}, {"mjd": 1196.5, "rate": 4.2, "err": 1.2},
    {"mjd": 1197.8, "rate": 3.3, "err": 1.0}, {"mjd": 1199.5, "rate": 9.1, "err": 1.8}, {"mjd": 1201, "rate": 8.3, "err": 1.5}, {"mjd": 1203, "rate": 8.8, "err": 1.8},
    {"mjd": 1205.4, "rate": 3.0, "err": 1.0}, {"mjd": 1206.5, "rate": 2.0, "err": 0.8}, {"mjd": 1208, "rate": 6.3, "err": 1.8}, {"mjd": 1208.7, "rate": 1.6, "err": 1.2},
    {"mjd": 1210.4, "rate": 2.2, "err": 0.7}, {"mjd": 1212, "rate": 2.6, "err": 0.7}, {"mjd": 1214, "rate": 2.1, "err": 0.7}, {"mjd": 1216, "rate": 2.5, "err": 0.7},
    {"mjd": 1218, "rate": 2.0, "err": 0.7}, {"mjd": 1220, "rate": 2.8, "err": 0.7}, {"mjd": 1222, "rate": 2.3, "err": 0.7}, {"mjd": 1224, "rate": 2.7, "err": 0.7},
    {"mjd": 1226, "rate": 2.1, "err": 0.7}, {"mjd": 1228, "rate": 2.6, "err": 0.7}, {"mjd": 1230, "rate": 2.3, "err": 0.7}, {"mjd": 1232, "rate": 2.9, "err": 0.7},
    {"mjd": 1234, "rate": 2.4, "err": 0.7}, {"mjd": 1236, "rate": 2.2, "err": 0.7}, {"mjd": 1238, "rate": 2.6, "err": 0.7}, {"mjd": 1240, "rate": 2.3, "err": 0.7},
    {"mjd": 1241.5, "rate": 4.5, "err": 1.2}, {"mjd": 1243, "rate": 2.5, "err": 0.7}, {"mjd": 1245, "rate": 2.1, "err": 0.7}, {"mjd": 1247, "rate": 2.6, "err": 0.7},
    {"mjd": 1249, "rate": 2.2, "err": 0.7}, {"mjd": 1251, "rate": 2.9, "err": 0.7}, {"mjd": 1253, "rate": 3.9, "err": 1.5}, {"mjd": 1254, "rate": 0.8, "err": 1.5},
    {"mjd": 1255.5, "rate": 3.2, "err": 0.7}, {"mjd": 1257, "rate": 2.8, "err": 0.7}, {"mjd": 1259, "rate": 2.5, "err": 0.7}, {"mjd": 1261, "rate": 2.4, "err": 0.7},
    {"mjd": 1263, "rate": 2.2, "err": 0.7}, {"mjd": 1265, "rate": 2.1, "err": 0.7}, {"mjd": 1267, "rate": 2.0, "err": 0.7}, {"mjd": 1269, "rate": 1.9, "err": 0.7},
    {"mjd": 1271, "rate": 1.7, "err": 0.7}, {"mjd": 1273, "rate": 1.6, "err": 0.7}, {"mjd": 1275, "rate": 1.5, "err": 0.7}, {"mjd": 1277, "rate": 1.4, "err": 0.7},
    {"mjd": 1279, "rate": 1.3, "err": 0.7}, {"mjd": 1281, "rate": 1.2, "err": 0.7}, {"mjd": 1283, "rate": 1.0, "err": 0.7}, {"mjd": 1285, "rate": 1.1, "err": 0.7},
    {"mjd": 1287, "rate": 0.8, "err": 0.7}, {"mjd": 1289, "rate": 0.9, "err": 0.7}, {"mjd": 1291, "rate": 1.3, "err": 0.7}, {"mjd": 1293.6, "rate": 3.0, "err": 1.0},
    {"mjd": 1295, "rate": 0.6, "err": 0.7}, {"mjd": 1297, "rate": 0.3, "err": 0.7}, {"mjd": 1299, "rate": 0.5, "err": 0.7}, {"mjd": 1301, "rate": 1.4, "err": 0.7},
    {"mjd": 1303, "rate": 2.6, "err": 0.7}, {"mjd": 1305, "rate": 2.2, "err": 0.7}, {"mjd": 1307, "rate": 2.5, "err": 0.7}, {"mjd": 1309, "rate": 1.9, "err": 0.7},
    {"mjd": 1311, "rate": 2.4, "err": 0.7}, {"mjd": 1313, "rate": 1.8, "err": 0.7}, {"mjd": 1315, "rate": 1.9, "err": 0.7}, {"mjd": 1317, "rate": 1.0, "err": 0.7},
    {"mjd": 1319.7, "rate": -1.2, "err": 0.7}, {"mjd": 1321, "rate": 0.6, "err": 0.7}, {"mjd": 1323, "rate": 0.9, "err": 0.7}, {"mjd": 1325, "rate": 0.4, "err": 0.7},
    {"mjd": 1327, "rate": 0.8, "err": 0.7}, {"mjd": 1329, "rate": 0.3, "err": 0.7}, {"mjd": 1331, "rate": 1.0, "err": 0.7}, {"mjd": 1333, "rate": 0.5, "err": 0.7},
    {"mjd": 1334.8, "rate": -1.4, "err": 0.7}, {"mjd": 1336, "rate": 0.7, "err": 0.7}, {"mjd": 1338, "rate": 1.2, "err": 0.7}, {"mjd": 1340, "rate": 0.4, "err": 0.7},
    {"mjd": 1341.5, "rate": 0.2, "err": 0.7}, {"mjd": 1343, "rate": 0.9, "err": 0.7}, {"mjd": 1345, "rate": -0.9, "err": 0.7}, {"mjd": 1347, "rate": 0.6, "err": 0.7},
    {"mjd": 1349, "rate": 1.1, "err": 0.7}, {"mjd": 1351.6, "rate": 0.8, "err": 0.7}, {"mjd": 1353, "rate": 0.2, "err": 0.7}, {"mjd": 1355, "rate": 1.3, "err": 0.7},
    {"mjd": 1357, "rate": 0.5, "err": 0.7}, {"mjd": 1359, "rate": 0.9, "err": 0.7}, {"mjd": 1360, "rate": -1.7, "err": 0.7}, {"mjd": 1360.8, "rate": 2.4, "err": 1.0},
    {"mjd": 1362, "rate": 0.6, "err": 0.7}, {"mjd": 1364, "rate": 1.0, "err": 0.7}, {"mjd": 1366, "rate": 0.3, "err": 0.7}, {"mjd": 1368.4, "rate": 1.0, "err": 0.7},
    {"mjd": 1370, "rate": 1.4, "err": 0.7}, {"mjd": 1372, "rate": 0.4, "err": 0.7}, {"mjd": 1374, "rate": 0.9, "err": 0.7}, {"mjd": 1375, "rate": 0.2, "err": 0.7},
    {"mjd": 1376.5, "rate": 1.3, "err": 0.7}, {"mjd": 1378.5, "rate": 1.6, "err": 0.7}, {"mjd": 1380, "rate": 0.7, "err": 0.7}, {"mjd": 1382, "rate": 0.2, "err": 0.7},
    {"mjd": 1384, "rate": 0.9, "err": 0.7}, {"mjd": 1385, "rate": 0.5, "err": 0.7}, {"mjd": 1387, "rate": 1.2, "err": 0.7}, {"mjd": 1389, "rate": 0.4, "err": 0.7},
    {"mjd": 1391, "rate": 0.8, "err": 0.7}, {"mjd": 1392, "rate": 1.0, "err": 0.7}, {"mjd": 1394, "rate": 0.5, "err": 0.7}, {"mjd": 1396, "rate": 1.1, "err": 0.7},
    {"mjd": 1398, "rate": 0.3, "err": 0.7}, {"mjd": 1400, "rate": 0.8, "err": 0.7}, {"mjd": 1402, "rate": 2.2, "err": 1.0}, {"mjd": 1403.5, "rate": 1.1, "err": 0.7},
    {"mjd": 1405.4, "rate": 0.5, "err": 0.7}, {"mjd": 1407, "rate": 0.9, "err": 0.7}, {"mjd": 1409, "rate": -0.3, "err": 0.7}, {"mjd": 1410.4, "rate": -0.9, "err": 0.7},
    {"mjd": 1412, "rate": 0.6, "err": 0.7}, {"mjd": 1414, "rate": 0.1, "err": 0.7}, {"mjd": 1415.5, "rate": 0.0, "err": 0.7}, {"mjd": 1417, "rate": 0.5, "err": 0.7},
    {"mjd": 1418.5, "rate": -0.3, "err": 0.7}
  ]
},
"vconcat": [
  {
    "width": 1545, "height": 145, "view": {"stroke": null},
    "layer": [
      {"data": {"name": "states"}, "mark": {"type": "rule", "color": "#eeeeee", "strokeWidth": 2.5},
       "encoding": {"x": {"field": "start", "type": "quantitative", "scale": {"domain": [640, 1420], "nice": false, "zero": false}, "axis": null},
                    "x2": {"field": "end"},
                    "y": {"datum": 0.497, "type": "quantitative", "scale": {"domain": [0, 1], "nice": false}, "axis": null}}},
      {"data": {"values": [{}]}, "mark": {"type": "text", "text": "G\u00a0X\u00a0\u00a0\u00a0\u00a0\u00a0\u00a03\u00a0\u00a03\u00a0\u00a09\u00a0\u00a0–\u00a0\u00a0\u00a04", "fontSize": 37, "baseline": "middle", "align": "center"},
       "encoding": {"x": {"datum": 970.9, "type": "quantitative", "scale": {"domain": [640, 1420], "nice": false, "zero": false}, "axis": null},
                    "y": {"datum": 0.775, "type": "quantitative", "scale": {"domain": [0, 1], "nice": false}, "axis": null}}},
      {"data": {"values": [{}]}, "mark": {"type": "text", "text": "Low/Hard state", "fontSize": 44, "baseline": "middle", "align": "center"},
       "encoding": {"x": {"datum": 747.9, "type": "quantitative", "scale": {"domain": [640, 1420], "nice": false, "zero": false}, "axis": null},
                    "y": {"datum": 0.234, "type": "quantitative", "scale": {"domain": [0, 1], "nice": false}, "axis": null}}},
      {"data": {"values": [{}]}, "mark": {"type": "text", "text": "High/Soft state", "fontSize": 44, "baseline": "middle", "align": "center"},
       "encoding": {"x": {"datum": 1004.7, "type": "quantitative", "scale": {"domain": [640, 1420], "nice": false, "zero": false}, "axis": null},
                    "y": {"datum": 0.234, "type": "quantitative", "scale": {"domain": [0, 1], "nice": false}, "axis": null}}},
      {"data": {"values": [{}]}, "mark": {"type": "text", "text": "L/H", "fontSize": 44, "baseline": "middle", "align": "center"},
       "encoding": {"x": {"datum": 1255, "type": "quantitative", "scale": {"domain": [640, 1420], "nice": false, "zero": false}, "axis": null},
                    "y": {"datum": 0.234, "type": "quantitative", "scale": {"domain": [0, 1], "nice": false}, "axis": null}}},
      {"data": {"values": [{}]}, "mark": {"type": "text", "text": "Off state", "fontSize": 44, "baseline": "middle", "align": "center"},
       "encoding": {"x": {"datum": 1359.6, "type": "quantitative", "scale": {"domain": [640, 1420], "nice": false, "zero": false}, "axis": null},
                    "y": {"datum": 0.234, "type": "quantitative", "scale": {"domain": [0, 1], "nice": false}, "axis": null}}}
    ]
  },
  {
    "width": 1545, "height": 387,
    "resolve": {"axis": {"x": "independent", "y": "independent"}},
    "layer": [
      {"data": {"values": [{}]}, "mark": {"type": "rule", "color": "#eeeeee", "strokeWidth": 2, "strokeDash": [6, 5, 2, 5]},
       "encoding": {"y": {"datum": 0, "type": "quantitative", "scale": {"domain": [-1, 10], "nice": false, "zero": false},
                          "axis": {"orient": "right", "values": [1, 2, 3, 4, 6, 7, 8, 9], "tickSize": -12, "labels": false, "title": null}}}},
      {"data": {"name": "most"}, "mark": {"type": "errorbar", "color": "#ff2d2d", "thickness": 2.5},
       "encoding": {"x": {"field": "mjd", "type": "quantitative", "scale": {"domain": [640, 1420], "nice": false, "zero": false}, "axis": null},
                    "y": {"field": "flux", "type": "quantitative", "scale": {"domain": [-1, 10], "nice": false, "zero": false}, "axis": null},
                    "yError": {"field": "err"}}},
      {"data": {"name": "most"}, "mark": {"type": "point", "shape": "triangle-up", "filled": false, "color": "#ff2d2d", "strokeWidth": 2.5, "size": 560},
       "encoding": {"x": {"field": "mjd", "type": "quantitative", "scale": {"domain": [640, 1420], "nice": false, "zero": false},
                          "axis": {"orient": "bottom", "values": [700, 800, 900, 1000, 1100, 1200, 1300, 1400], "tickSize": -17, "labels": false, "title": null}},
                    "y": {"field": "flux", "type": "quantitative", "scale": {"domain": [-1, 10], "nice": false, "zero": false},
                          "axis": {"orient": "left", "values": [0, 5, 10], "format": "d", "tickSize": -21, "labelAngle": 270, "labelAlign": "center", "labelBaseline": "middle", "labelPadding": 64, "labelFontSize": 34,
                                   "title": "Sᵥ (mJy)", "titleFontSize": 42, "titleAngle": 270, "titleX": -100, "titleY": 193.5, "titleAlign": "center", "titleBaseline": "middle"}}}},
      {"data": {"name": "atcaSquare"}, "mark": {"type": "errorbar", "color": "#28c828", "thickness": 2},
       "encoding": {"x": {"field": "mjd", "type": "quantitative", "scale": {"domain": [640, 1420], "nice": false, "zero": false}, "axis": null},
                    "y": {"field": "flux", "type": "quantitative", "scale": {"domain": [-1, 10], "nice": false, "zero": false}, "axis": null},
                    "yError": {"field": "err"}}},
      {"data": {"name": "atcaSquare"}, "mark": {"type": "point", "shape": "square", "filled": false, "color": "#28c828", "strokeWidth": 2.5, "size": 420},
       "encoding": {"x": {"field": "mjd", "type": "quantitative", "scale": {"domain": [640, 1420], "nice": false, "zero": false},
                          "axis": {"orient": "top", "values": [700, 800, 900, 1000, 1100, 1200, 1300, 1400], "tickSize": -17, "labels": false, "title": null}},
                    "y": {"field": "flux", "type": "quantitative", "scale": {"domain": [-1, 10], "nice": false, "zero": false},
                          "axis": {"orient": "left", "values": [1, 2, 3, 4, 6, 7, 8, 9], "tickSize": -12, "labels": false, "title": null}}}},
      {"data": {"name": "atcaCross"}, "mark": {"type": "point", "shape": "M-1,-1L1,1M-1,1L1,-1", "filled": false, "color": "#2a3cff", "strokeWidth": 3, "size": 260},
       "encoding": {"x": {"field": "mjd", "type": "quantitative", "scale": {"domain": [640, 1420], "nice": false, "zero": false}, "axis": null},
                    "y": {"field": "flux", "type": "quantitative", "scale": {"domain": [-1, 10], "nice": false, "zero": false},
                          "axis": {"orient": "right", "values": [0, 5, 10], "tickSize": -21, "labels": false, "title": null}}}},
      {"data": {"name": "atcaCircle"}, "mark": {"type": "point", "shape": "circle", "filled": false, "color": "#20e0e0", "strokeWidth": 2.5, "size": 480},
       "encoding": {"x": {"field": "mjd", "type": "quantitative", "scale": {"domain": [640, 1420], "nice": false, "zero": false}, "axis": null},
                    "y": {"field": "flux", "type": "quantitative", "scale": {"domain": [-1, 10], "nice": false, "zero": false}, "axis": null}}},
      {"data": {"name": "extra"}, "mark": {"type": "point", "shape": "triangle-up", "filled": false, "color": "#b040ff", "strokeWidth": 2, "size": 260},
       "encoding": {"x": {"field": "mjd", "type": "quantitative", "scale": {"domain": [640, 1420], "nice": false, "zero": false}, "axis": null},
                    "y": {"field": "flux", "type": "quantitative", "scale": {"domain": [-1, 10], "nice": false, "zero": false}, "axis": null}}},
      {"data": {"values": [{}]}, "mark": {"type": "rect", "fill": "#000000", "stroke": "#eeeeee", "strokeWidth": 2.5},
       "encoding": {"x": {"datum": 879.8, "type": "quantitative", "scale": {"domain": [640, 1420], "nice": false, "zero": false}, "axis": null}, "x2": {"datum": 1190.7},
                    "y": {"datum": 8.83, "type": "quantitative", "scale": {"domain": [-1, 10], "nice": false, "zero": false}, "axis": null}, "y2": {"datum": 6.3}}},
      {"data": {"values": [{}]}, "mark": {"type": "point", "shape": "triangle-up", "filled": false, "color": "#ff2d2d", "strokeWidth": 2.5, "size": 560},
       "encoding": {"x": {"datum": 915, "type": "quantitative", "scale": {"domain": [640, 1420], "nice": false, "zero": false}, "axis": null},
                    "y": {"datum": 8.2, "type": "quantitative", "scale": {"domain": [-1, 10], "nice": false, "zero": false}, "axis": null}}},
      {"data": {"values": [{}]}, "mark": {"type": "point", "shape": "square", "filled": false, "color": "#28c828", "strokeWidth": 2.5, "size": 420},
       "encoding": {"x": {"datum": 900.8, "type": "quantitative", "scale": {"domain": [640, 1420], "nice": false, "zero": false}, "axis": null},
                    "y": {"datum": 7.05, "type": "quantitative", "scale": {"domain": [-1, 10], "nice": false, "zero": false}, "axis": null}}},
      {"data": {"values": [{}]}, "mark": {"type": "point", "shape": "M-1,-1L1,1M-1,1L1,-1", "filled": false, "color": "#2a3cff", "strokeWidth": 3, "size": 260},
       "encoding": {"x": {"datum": 914.5, "type": "quantitative", "scale": {"domain": [640, 1420], "nice": false, "zero": false}, "axis": null},
                    "y": {"datum": 7.05, "type": "quantitative", "scale": {"domain": [-1, 10], "nice": false, "zero": false}, "axis": null}}},
      {"data": {"values": [{}]}, "mark": {"type": "point", "shape": "circle", "filled": false, "color": "#20e0e0", "strokeWidth": 2.5, "size": 480},
       "encoding": {"x": {"datum": 929.9, "type": "quantitative", "scale": {"domain": [640, 1420], "nice": false, "zero": false}, "axis": null},
                    "y": {"datum": 7.05, "type": "quantitative", "scale": {"domain": [-1, 10], "nice": false, "zero": false}, "axis": null}}},
      {"data": {"values": [{}]}, "mark": {"type": "text", "text": "MOST 36 cm", "fontSize": 38, "align": "left", "baseline": "middle"},
       "encoding": {"x": {"datum": 949.7, "type": "quantitative", "scale": {"domain": [640, 1420], "nice": false, "zero": false}, "axis": null},
                    "y": {"datum": 8.28, "type": "quantitative", "scale": {"domain": [-1, 10], "nice": false, "zero": false}, "axis": null}}},
      {"data": {"values": [{}]}, "mark": {"type": "text", "text": "ATCA 3, 6 & 20 cm", "fontSize": 38, "align": "left", "baseline": "middle"},
       "encoding": {"x": {"datum": 949.7, "type": "quantitative", "scale": {"domain": [640, 1420], "nice": false, "zero": false}, "axis": null},
                    "y": {"datum": 7.1, "type": "quantitative", "scale": {"domain": [-1, 10], "nice": false, "zero": false}, "axis": null}}}
    ]
  },
  {
    "width": 1545, "height": 383,
    "resolve": {"axis": {"x": "independent", "y": "independent"}},
    "layer": [
      {"data": {"values": [{}]}, "mark": {"type": "rule", "color": "#eeeeee", "strokeWidth": 2, "strokeDash": [6, 5, 2, 5]},
       "encoding": {"y": {"datum": 0, "type": "quantitative", "scale": {"domain": [-0.01, 0.08], "nice": false, "zero": false},
                          "axis": {"orient": "right", "values": [0.025, 0.075], "tickSize": -12, "labels": false, "title": null}}}},
      {"data": {"name": "batse"}, "mark": {"type": "errorbar", "color": "#f050f0", "thickness": 2.5},
       "encoding": {"x": {"field": "mjd", "type": "quantitative", "scale": {"domain": [640, 1420], "nice": false, "zero": false}, "axis": null},
                    "y": {"field": "rate", "type": "quantitative", "scale": {"domain": [-0.01, 0.08], "nice": false, "zero": false}, "axis": null},
                    "yError": {"field": "err"}}},
      {"data": {"name": "batse"}, "mark": {"type": "point", "shape": "circle", "filled": true, "color": "#f550f5", "opacity": 1, "size": 130},
       "encoding": {"x": {"field": "mjd", "type": "quantitative", "scale": {"domain": [640, 1420], "nice": false, "zero": false},
                          "axis": {"orient": "bottom", "values": [700, 800, 900, 1000, 1100, 1200, 1300, 1400], "tickSize": -17, "labels": false, "title": null}},
                    "y": {"field": "rate", "type": "quantitative", "scale": {"domain": [-0.01, 0.08], "nice": false, "zero": false},
                          "axis": {"orient": "left", "values": [0, 0.05], "format": "~g", "tickSize": -21, "labelAngle": 270, "labelAlign": "center", "labelBaseline": "middle", "labelPadding": 64, "labelFontSize": 34,
                                   "title": "ph/cm²/sec", "titleFontSize": 42, "titleAngle": 270, "titleX": -100, "titleY": 191.5, "titleAlign": "center", "titleBaseline": "middle"}}}},
      {"data": {"values": [{}]}, "mark": {"type": "rect", "fill": "#000000", "stroke": "#eeeeee", "strokeWidth": 2.5},
       "encoding": {"x": {"datum": 939.9, "type": "quantitative", "scale": {"domain": [640, 1420], "nice": false, "zero": false},
                          "axis": {"orient": "top", "values": [700, 800, 900, 1000, 1100, 1200, 1300, 1400], "tickSize": -17, "labels": false, "title": null}},
                    "x2": {"datum": 1190.5},
                    "y": {"datum": 0.0701, "type": "quantitative", "scale": {"domain": [-0.01, 0.08], "nice": false, "zero": false},
                          "axis": {"orient": "left", "values": [0.025, 0.075], "tickSize": -12, "labels": false, "title": null}},
                    "y2": {"datum": 0.0573}}},
      {"data": {"values": [{}]}, "mark": {"type": "text", "text": "BATSE 20−100 keV", "fontSize": 41, "align": "center", "baseline": "middle"},
       "encoding": {"x": {"datum": 1055.8, "type": "quantitative", "scale": {"domain": [640, 1420], "nice": false, "zero": false}, "axis": null},
                    "y": {"datum": 0.0637, "type": "quantitative", "scale": {"domain": [-0.01, 0.08], "nice": false, "zero": false},
                          "axis": {"orient": "right", "values": [0, 0.05], "tickSize": -21, "labels": false, "title": null}}}}
    ]
  },
  {
    "width": 1545, "height": 387,
    "resolve": {"axis": {"x": "independent", "y": "independent"}},
    "layer": [
      {"data": {"values": [{}]}, "mark": {"type": "rule", "color": "#eeeeee", "strokeWidth": 2, "strokeDash": [6, 5, 2, 5]},
       "encoding": {"y": {"datum": 0, "type": "quantitative", "scale": {"domain": [-2, 30], "nice": false, "zero": false},
                          "axis": {"orient": "right", "values": [5, 15, 25], "tickSize": -12, "labels": false, "title": null}}}},
      {"data": {"name": "asm"}, "mark": {"type": "errorbar", "color": "#10f0f0", "thickness": 2.5},
       "encoding": {"x": {"field": "mjd", "type": "quantitative", "scale": {"domain": [640, 1420], "nice": false, "zero": false}, "axis": null},
                    "y": {"field": "rate", "type": "quantitative", "scale": {"domain": [-2, 30], "nice": false, "zero": false}, "axis": null},
                    "yError": {"field": "err"}}},
      {"data": {"name": "asm"}, "mark": {"type": "point", "shape": "circle", "filled": true, "color": "#10f4f4", "opacity": 1, "size": 120},
       "encoding": {"x": {"field": "mjd", "type": "quantitative", "scale": {"domain": [640, 1420], "nice": false, "zero": false},
                          "axis": {"orient": "bottom", "values": [700, 800, 900, 1000, 1100, 1200, 1300, 1400], "format": "d", "labelExpr": "datum.value % 200 === 0 ? datum.label : ''",
                                   "tickSize": -17, "labelFontSize": 38, "labelAlign": "center", "labelBaseline": "alphabetic", "labelPadding": 69, "title": null}},
                    "y": {"field": "rate", "type": "quantitative", "scale": {"domain": [-2, 30], "nice": false, "zero": false},
                          "axis": {"orient": "left", "values": [0, 10, 20], "format": "d", "tickSize": -21, "labelAngle": 270, "labelAlign": "center", "labelBaseline": "middle", "labelPadding": 64, "labelFontSize": 34,
                                   "title": "count/sec", "titleFontSize": 42, "titleAngle": 270, "titleX": -100, "titleY": 193.5, "titleAlign": "center", "titleBaseline": "middle"}}}},
      {"data": {"values": [{}]}, "mark": {"type": "rect", "fill": "#000000", "stroke": "#eeeeee", "strokeWidth": 2.5},
       "encoding": {"x": {"datum": 650.6, "type": "quantitative", "scale": {"domain": [640, 1420], "nice": false, "zero": false},
                          "axis": {"orient": "top", "values": [700, 800, 900, 1000, 1100, 1200, 1300, 1400], "tickSize": -17, "labels": false, "title": null}},
                    "x2": {"datum": 790.2},
                    "y": {"datum": 27.85, "type": "quantitative", "scale": {"domain": [-2, 30], "nice": false, "zero": false},
                          "axis": {"orient": "left", "values": [5, 15, 25], "tickSize": -12, "labels": false, "title": null}},
                    "y2": {"datum": 18.11}}},
      {"data": {"values": [{}]}, "mark": {"type": "text", "text": "RXTE ASM", "fontSize": 40, "align": "left", "baseline": "middle"},
       "encoding": {"x": {"datum": 660, "type": "quantitative", "scale": {"domain": [640, 1420], "nice": false, "zero": false}, "axis": null},
                    "y": {"datum": 25.12, "type": "quantitative", "scale": {"domain": [-2, 30], "nice": false, "zero": false},
                          "axis": {"orient": "right", "values": [0, 10, 20], "tickSize": -21, "labels": false, "title": null}}}},
      {"data": {"values": [{}]}, "mark": {"type": "text", "text": "2−12 keV", "fontSize": 40, "align": "left", "baseline": "middle"},
       "encoding": {"x": {"datum": 660, "type": "quantitative", "scale": {"domain": [640, 1420], "nice": false, "zero": false}, "axis": null},
                    "y": {"datum": 21.17, "type": "quantitative", "scale": {"domain": [-2, 30], "nice": false, "zero": false}, "axis": null}}}
    ]
  },
  {
    "width": 1545, "height": 145, "view": {"stroke": null},
    "layer": [
      {"data": {"values": [{}]}, "mark": {"type": "text", "text": "Fender et al. (1999)", "fontSize": 44, "baseline": "middle", "align": "center"},
       "encoding": {"x": {"datum": 764.4, "type": "quantitative", "scale": {"domain": [640, 1420], "nice": false, "zero": false}, "axis": null},
                    "y": {"datum": 0.175, "type": "quantitative", "scale": {"domain": [0, 1], "nice": false}, "axis": null}}},
      {"data": {"values": [{}]}, "mark": {"type": "text", "text": "MJD − 50000.0", "fontSize": 41, "baseline": "middle", "align": "center"},
       "encoding": {"x": {"datum": 1030, "type": "quantitative", "scale": {"domain": [640, 1420], "nice": false, "zero": false}, "axis": null},
                    "y": {"datum": 0.175, "type": "quantitative", "scale": {"domain": [0, 1], "nice": false}, "axis": null}}},
      {"data": {"values": [{}]}, "mark": {"type": "text", "text": "Corbel et al. (2000)", "fontSize": 44, "baseline": "middle", "align": "center"},
       "encoding": {"x": {"datum": 1297.8, "type": "quantitative", "scale": {"domain": [640, 1420], "nice": false, "zero": false}, "axis": null},
                    "y": {"datum": 0.175, "type": "quantitative", "scale": {"domain": [0, 1], "nice": false}, "axis": null}}}
    ]
  }
]
}
